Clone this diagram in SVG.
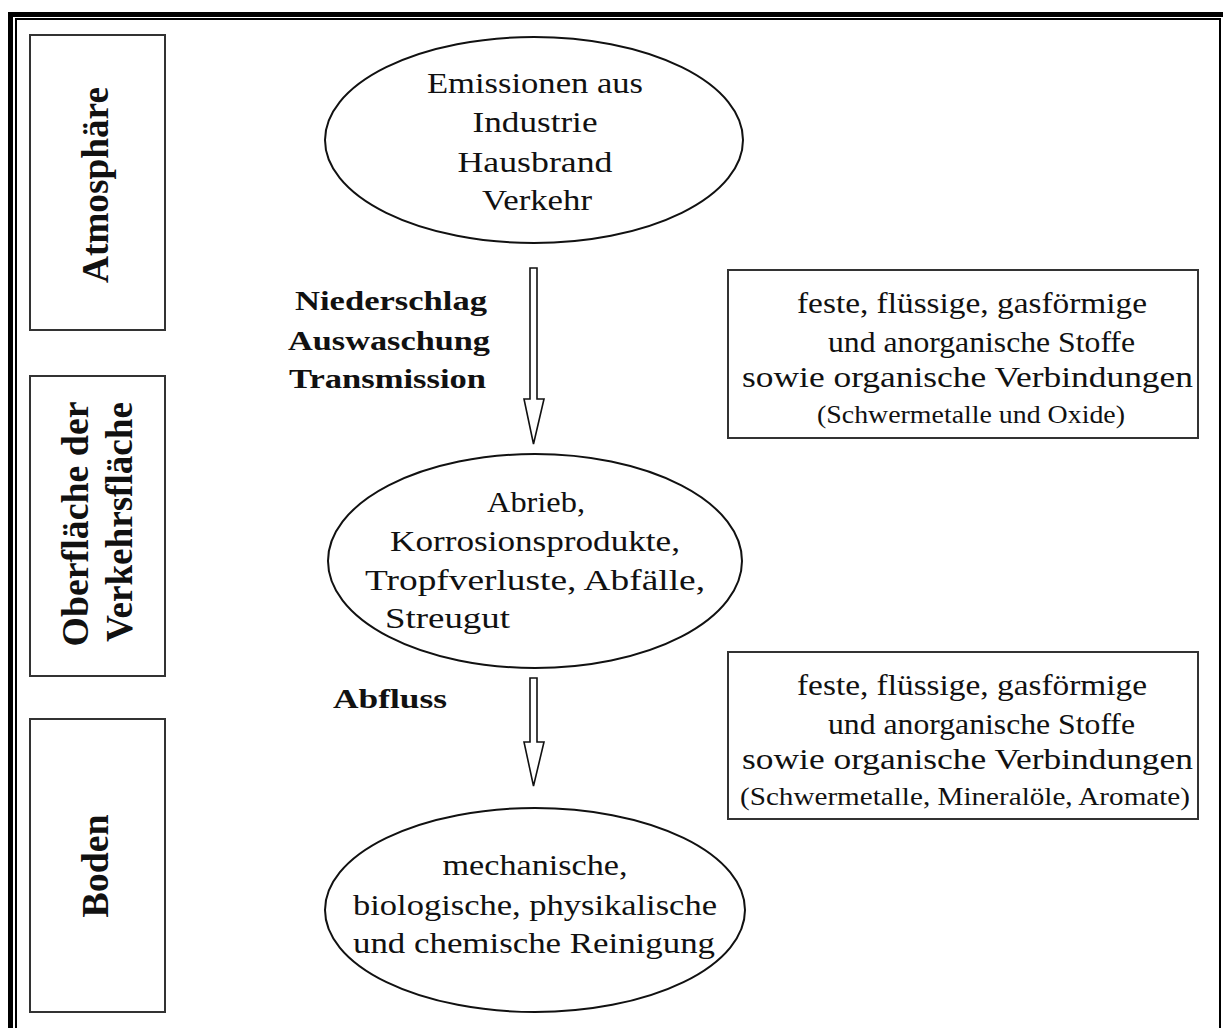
<svg xmlns="http://www.w3.org/2000/svg" width="1223" height="1028" viewBox="0 0 1223 1028">
<style>
.t{font-family:"Liberation Serif","Times New Roman",serif;font-size:30px;fill:#111}
.s{font-family:"Liberation Serif","Times New Roman",serif;font-size:25px;fill:#111}
.b{font-family:"Liberation Serif","Times New Roman",serif;font-size:27px;font-weight:bold;fill:#111}
.v{font-family:"Liberation Serif","Times New Roman",serif;font-size:37px;font-weight:bold;fill:#111}
.box{fill:#fff;stroke:#333;stroke-width:2}
.ell{fill:#fff;stroke:#111;stroke-width:2}
.arr{fill:#fff;stroke:#111;stroke-width:1.6;stroke-linejoin:miter}
</style>
<rect x="0" y="0" width="1223" height="1028" fill="#fff"/>
<g id="frame">
<rect x="10.5" y="14.5" width="1216" height="1030" fill="none" stroke="#000" stroke-width="5"/>
<rect x="16" y="19" width="1204" height="1030" fill="none" stroke="#000" stroke-width="2"/>
</g>
<g id="lane-atmosphaere">
<rect class="box" x="30" y="35" width="135" height="295"/>
<text class="v" text-anchor="middle" transform="translate(108,185) rotate(-90)" textLength="196" lengthAdjust="spacingAndGlyphs">Atmosphäre</text>
</g>
<g id="lane-oberflaeche">
<rect class="box" x="30" y="376" width="135" height="300"/>
<text class="v" text-anchor="middle" transform="translate(88,524) rotate(-90)" textLength="245" lengthAdjust="spacingAndGlyphs">Oberfläche der</text>
<text class="v" text-anchor="middle" transform="translate(132,522) rotate(-90)" textLength="240" lengthAdjust="spacingAndGlyphs">Verkehrsfläche</text>
</g>
<g id="lane-boden">
<rect class="box" x="30" y="719" width="135" height="293"/>
<text class="v" text-anchor="middle" transform="translate(108,866) rotate(-90)" textLength="103" lengthAdjust="spacingAndGlyphs">Boden</text>
</g>
<g id="node-emissionen">
<ellipse class="ell" cx="534" cy="140" rx="209" ry="103"/>
<text class="t" x="535" y="93" text-anchor="middle" textLength="216" lengthAdjust="spacingAndGlyphs">Emissionen aus</text>
<text class="t" x="535" y="132" text-anchor="middle" textLength="125" lengthAdjust="spacingAndGlyphs">Industrie</text>
<text class="t" x="535" y="172" text-anchor="middle" textLength="155" lengthAdjust="spacingAndGlyphs">Hausbrand</text>
<text class="t" x="537" y="210" text-anchor="middle" textLength="110" lengthAdjust="spacingAndGlyphs">Verkehr</text>
</g>
<g id="node-abrieb">
<ellipse class="ell" cx="535" cy="561" rx="207" ry="107"/>
<text class="t" x="536" y="512" text-anchor="middle" textLength="98" lengthAdjust="spacingAndGlyphs">Abrieb,</text>
<text class="t" x="535" y="551" text-anchor="middle" textLength="290" lengthAdjust="spacingAndGlyphs">Korrosionsprodukte,</text>
<text class="t" x="535" y="590" text-anchor="middle" textLength="340" lengthAdjust="spacingAndGlyphs">Tropfverluste, Abfälle,</text>
<text class="t" x="385" y="628" textLength="125" lengthAdjust="spacingAndGlyphs">Streugut</text>
</g>
<g id="node-reinigung">
<ellipse class="ell" cx="535" cy="910" rx="210" ry="102"/>
<text class="t" x="535" y="875" text-anchor="middle" textLength="185" lengthAdjust="spacingAndGlyphs">mechanische,</text>
<text class="t" x="353" y="915" textLength="364" lengthAdjust="spacingAndGlyphs">biologische, physikalische</text>
<text class="t" x="353" y="953" textLength="362" lengthAdjust="spacingAndGlyphs">und chemische Reinigung</text>
</g>
<g id="box-stoffe-1">
<rect class="box" x="728" y="270" width="470" height="168"/>
<text class="t" x="797" y="313" textLength="350" lengthAdjust="spacingAndGlyphs">feste, flüssige, gasförmige</text>
<text class="t" x="828" y="352" textLength="307" lengthAdjust="spacingAndGlyphs">und anorganische Stoffe</text>
<text class="t" x="742" y="387" textLength="451" lengthAdjust="spacingAndGlyphs">sowie organische Verbindungen</text>
<text class="s" x="817" y="423" textLength="308" lengthAdjust="spacingAndGlyphs">(Schwermetalle und Oxide)</text>
</g>
<g id="box-stoffe-2">
<rect class="box" x="728" y="652" width="470" height="167"/>
<text class="t" x="797" y="695" textLength="350" lengthAdjust="spacingAndGlyphs">feste, flüssige, gasförmige</text>
<text class="t" x="828" y="734" textLength="307" lengthAdjust="spacingAndGlyphs">und anorganische Stoffe</text>
<text class="t" x="742" y="769" textLength="451" lengthAdjust="spacingAndGlyphs">sowie organische Verbindungen</text>
<text class="s" x="740" y="805" textLength="450" lengthAdjust="spacingAndGlyphs">(Schwermetalle, Mineralöle, Aromate)</text>
</g>
<g id="connectors">
<polygon class="arr" points="530,268 537,268 537,399 544,399 533.5,444 524,399 530,399"/>
<polygon class="arr" points="530,678 537,678 537,742 544,742 533.5,786 524,742 530,742"/>
<text class="b" x="295" y="310" textLength="192" lengthAdjust="spacingAndGlyphs">Niederschlag</text>
<text class="b" x="288" y="350" textLength="202" lengthAdjust="spacingAndGlyphs">Auswaschung</text>
<text class="b" x="289" y="388" textLength="197" lengthAdjust="spacingAndGlyphs">Transmission</text>
<text class="b" x="333" y="708" textLength="114" lengthAdjust="spacingAndGlyphs">Abfluss</text>
</g>
</svg>
